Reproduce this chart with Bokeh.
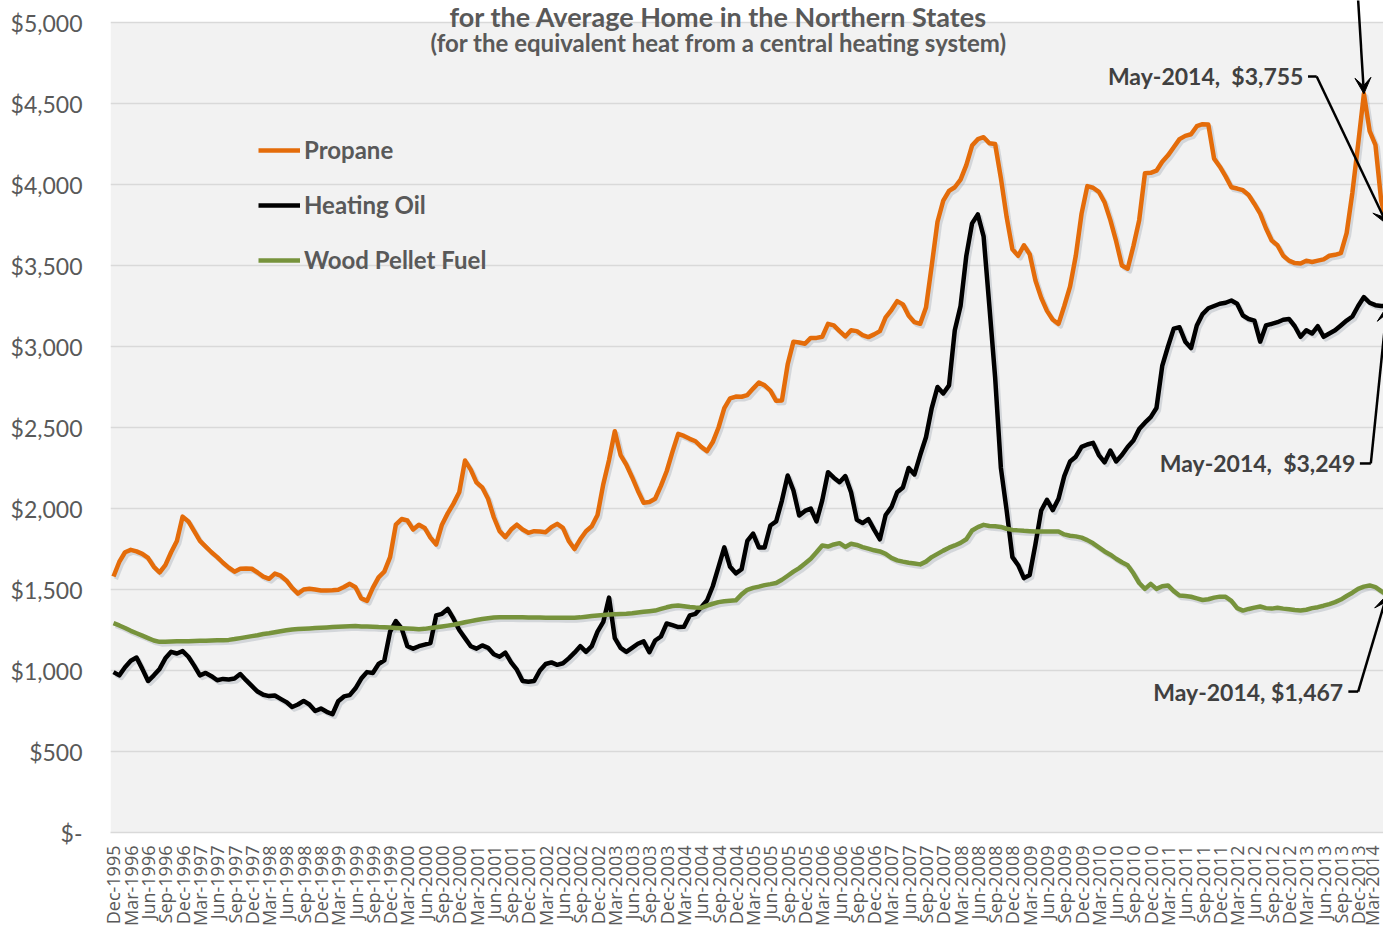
import math
import pandas as pd
from bokeh.plotting import figure
from bokeh.models import (ColumnDataSource, Range1d, FixedTicker, Legend, LegendItem,
                          Label, Arrow, VeeHead, BoxAnnotation)
from bokeh.transform import dodge
from bokeh.embed import file_html
from bokeh.resources import INLINE

# ---------------- data (monthly, Dec-1995 .. May-2014) ----------------
months = [d.strftime("%b-%Y") for d in pd.date_range("1995-12-01", "2014-05-01", freq="MS")]

propane = [
    1580, 1670, 1730, 1745, 1735, 1720, 1695, 1640, 1605, 1650,
    1730, 1800, 1950, 1920, 1860, 1800, 1765, 1730, 1700, 1665,
    1635, 1610, 1628, 1630, 1628, 1605, 1580, 1566, 1598, 1585,
    1556, 1510, 1475, 1500, 1505, 1500, 1494, 1494, 1495, 1498,
    1515, 1535, 1514, 1445, 1430, 1510, 1575, 1610, 1700, 1900,
    1935, 1926, 1870, 1900, 1880, 1820, 1778, 1900, 1970, 2030,
    2100, 2296, 2240, 2160, 2130, 2060, 1946, 1860, 1823, 1870,
    1900, 1870, 1850, 1860, 1858, 1854, 1885, 1905, 1880, 1800,
    1750, 1810, 1860, 1890, 1960, 2150, 2300, 2477, 2330, 2270,
    2193, 2110, 2035, 2040, 2060, 2140, 2230, 2350, 2461, 2448,
    2430, 2415, 2380, 2354, 2410, 2500, 2620, 2680, 2691, 2690,
    2700, 2740, 2778, 2760, 2728, 2665, 2667, 2890, 3030, 3025,
    3017, 3053, 3053, 3060, 3140, 3130, 3095, 3062, 3100, 3095,
    3070, 3058, 3075, 3095, 3180, 3225, 3280, 3260, 3190, 3150,
    3140, 3240, 3500, 3770, 3900, 3960, 3983, 4030, 4120, 4240,
    4280, 4292, 4255, 4250, 4040, 3798, 3600, 3560, 3625, 3570,
    3407, 3300, 3220, 3165, 3140, 3250, 3370, 3560, 3820, 3990,
    3980, 3955, 3890, 3780, 3650, 3500, 3480, 3620, 3780, 4070,
    4072, 4085, 4140, 4180, 4230, 4280, 4300, 4310, 4360, 4372,
    4370, 4160, 4110, 4050, 3983, 3975, 3965, 3935, 3880, 3820,
    3730, 3654, 3625, 3560, 3530, 3515, 3512, 3530, 3522, 3530,
    3538, 3560, 3566, 3576, 3700, 3950, 4250, 4560, 4330, 4245,
    3900, 3755,
]

heating_oil = [
    990, 970, 1020, 1060, 1080, 1010, 935, 970, 1010, 1075,
    1115, 1105, 1120, 1085, 1030, 970, 985, 965, 940, 948,
    945, 950, 978, 940, 905, 870, 850, 842, 846, 825,
    805, 775, 790, 812, 790, 750, 765, 745, 730, 810,
    840, 848, 890, 950, 990, 985, 1040, 1062, 1240, 1305,
    1260, 1150, 1135, 1150, 1160, 1170, 1340, 1350, 1380, 1320,
    1250, 1200, 1150, 1135, 1155, 1140, 1100, 1085, 1110, 1050,
    1005, 935, 930, 935, 1000, 1040, 1050, 1035, 1045, 1075,
    1110, 1150, 1115, 1150, 1240, 1300, 1450, 1200, 1140, 1115,
    1140, 1165, 1180, 1113, 1185, 1210, 1290, 1280, 1268, 1270,
    1340, 1350, 1390, 1432, 1520, 1640, 1760, 1640, 1600, 1625,
    1800, 1845, 1760, 1760, 1895, 1920, 2049, 2204, 2111, 1957,
    1985, 2000, 1920, 2050, 2224, 2190, 2162, 2200, 2100, 1930,
    1910, 1935, 1870, 1810, 1960, 2008, 2100, 2130, 2250, 2210,
    2330, 2440, 2620, 2750, 2710, 2760, 3100, 3250, 3560, 3760,
    3815, 3680, 3250, 2810, 2250, 1988, 1700, 1650, 1570, 1590,
    1780, 1988, 2054, 1990, 2060, 2200, 2290, 2320, 2380, 2395,
    2405, 2330, 2285, 2358, 2290, 2330, 2380, 2420, 2490, 2530,
    2564, 2620, 2880, 3000, 3110, 3119, 3030, 2990, 3130, 3200,
    3236, 3250, 3264, 3270, 3284, 3264, 3191, 3170, 3160, 3030,
    3130, 3140, 3150, 3165, 3170, 3125, 3060, 3100, 3080, 3125,
    3060, 3080, 3100, 3130, 3160, 3185, 3250, 3305, 3270, 3255,
    3250, 3249,
]

wood_pellet = [
    1292, 1278, 1262, 1245, 1230, 1215, 1200, 1185, 1177, 1178,
    1179, 1180, 1181, 1181, 1182, 1183, 1184, 1185, 1186, 1187,
    1189, 1194, 1200, 1206, 1212, 1218, 1225, 1230, 1236, 1242,
    1248, 1253, 1256, 1258, 1260, 1262, 1264, 1266, 1268, 1270,
    1272, 1273, 1274, 1272, 1271, 1270, 1268, 1267, 1265, 1263,
    1261, 1259, 1257, 1255, 1257, 1262, 1267, 1272, 1277, 1282,
    1290, 1298, 1305, 1312, 1318, 1323, 1327, 1329, 1329, 1329,
    1328, 1328, 1327, 1327, 1327, 1326, 1326, 1326, 1325, 1325,
    1325, 1328, 1332, 1336, 1339, 1342, 1345, 1347, 1349, 1351,
    1354, 1358, 1362, 1366, 1370, 1380, 1390, 1398, 1401, 1397,
    1392, 1389, 1387, 1400, 1412, 1422, 1427, 1431, 1433, 1470,
    1498, 1510, 1518, 1527, 1533, 1540, 1560, 1585, 1610, 1632,
    1660, 1690, 1730, 1772, 1765, 1778, 1786, 1763, 1782, 1775,
    1762, 1752, 1742, 1735, 1720, 1695, 1680, 1672, 1665, 1660,
    1655, 1672, 1700, 1720, 1740, 1758, 1772, 1788, 1810, 1864,
    1885, 1899, 1892, 1890, 1886, 1875, 1868, 1865, 1862, 1860,
    1858, 1858, 1858, 1858, 1858, 1840, 1832, 1828, 1820, 1805,
    1785, 1760, 1735, 1715, 1690, 1668, 1650, 1600, 1540, 1504,
    1535, 1504, 1520, 1525, 1490, 1463, 1460, 1455, 1445, 1435,
    1440, 1450, 1456, 1455, 1430, 1385, 1370, 1380, 1388, 1395,
    1385, 1382, 1387, 1382, 1378, 1373, 1370, 1375, 1385, 1391,
    1400, 1410, 1422, 1438, 1460, 1480, 1504, 1518, 1525, 1515,
    1490, 1467,
]

series_names = ["Propane", "Heating Oil", "Wood Pellet Fuel"]
series_colors = ["#E46C0A", "#000000", "#77933C"]

y_ticks = [0, 500, 1000, 1500, 2000, 2500, 3000, 3500, 4000, 4500, 5000]
y_tick_labels = ["$-", "$500", "$1,000", "$1,500", "$2,000", "$2,500",
                 "$3,000", "$3,500", "$4,000", "$4,500", "$5,000"]

title_text = "for the Average Home in the Northern States"
subtitle_text = "(for the equivalent heat from a central heating system)"
peak_index = 217  # Jan-2014 propane peak

n = len(months)
src = ColumnDataSource(dict(
    i=list(range(n)), month=months,
    propane=propane[:n], oil=heating_oil[:n], wood=wood_pellet[:n]))

# ---------------- figure ----------------
# plotting area 0..5000 is 810px tall; the frame extends 22px above it for the titles
y_top = 5000 + 22 * 5000 / 810
p = figure(frame_width=1273, frame_height=832, output_backend="svg", toolbar_location=None,
           x_range=Range1d(-0.52, 220.4), y_range=Range1d(0, y_top),
           min_border_left=110, min_border_right=0, min_border_top=0, min_border_bottom=0,
           background_fill_color="white", border_fill_color="white")
p.outline_line_color = None

p.add_layout(BoxAnnotation(bottom=0, top=5000, fill_color="#F2F2F2", fill_alpha=1,
                           line_color=None, level="image"))

p.xgrid.grid_line_color = None
p.ygrid.grid_line_color = "#D9D9D9"
p.ygrid.grid_line_width = 1.3
p.ygrid.ticker = FixedTicker(ticks=y_ticks)

p.yaxis.ticker = FixedTicker(ticks=y_ticks)
p.yaxis.major_label_overrides = {t: l for t, l in zip(y_ticks, y_tick_labels)}
p.yaxis.axis_line_color = None
p.yaxis.major_tick_line_color = None
p.yaxis.minor_tick_line_color = None
p.yaxis.major_tick_out = 0
p.yaxis.major_tick_in = 0
p.yaxis.major_label_standoff = 28
p.yaxis.major_label_text_font = "Lato"
p.yaxis.major_label_text_font_size = "23px"
p.yaxis.major_label_text_color = "#595959"

x_ticks = list(range(0, n, 3))
p.xaxis.ticker = FixedTicker(ticks=x_ticks)
p.xaxis.major_label_overrides = {t: months[t] for t in x_ticks}
p.xaxis.major_label_orientation = math.pi / 2
p.xaxis.axis_line_color = "#D9D9D9"
p.xaxis.axis_line_width = 1.5
p.xaxis.major_tick_line_color = None
p.xaxis.minor_tick_line_color = None
p.xaxis.major_tick_out = 0
p.xaxis.major_tick_in = 0
p.xaxis.major_label_standoff = 13
p.xaxis.major_label_text_font = "Open Sans"
p.xaxis.major_label_text_font_size = "18px"
p.xaxis.major_label_text_color = "#595959"

# shadows
for col in ["propane", "oil", "wood"]:
    p.line(x=dodge("i", 0.4), y=dodge(col, -16), source=src, line_width=4.5,
           line_color="#9AA3B0", line_alpha=0.35, line_join="round")

renderers = []
for col, color in zip(["propane", "oil", "wood"], series_colors):
    r = p.line(x="i", y=col, source=src, line_width=4.5, line_color=color, line_join="round")
    renderers.append(r)

legend = Legend(items=[LegendItem(label=nm, renderers=[r]) for nm, r in zip(series_names, renderers)],
                location=(148, 558), orientation="vertical", padding=0, margin=0, spacing=26,
                glyph_width=42, glyph_height=20, label_height=20, label_standoff=4,
                background_fill_alpha=0, border_line_alpha=0,
                label_text_font="Lato", label_text_font_style="bold",
                label_text_font_size="24px", label_text_color="#595959")
p.add_layout(legend)

# titles
p.add_layout(Label(x=105, y=5037, text=title_text, text_align="center", text_baseline="middle",
                   text_font="Lato", text_font_style="bold", text_font_size="27px", text_color="#595959"))
p.add_layout(Label(x=105, y=4877, text=subtitle_text, text_align="center", text_baseline="middle",
                   text_font="Lato", text_font_style="bold", text_font_size="24px", text_color="#595959"))

# annotations
last = n - 1
ann_color = "#404040"
sp = "\u00a0 "
notes = [
    (206.5, 4667, f"{months[last]},{sp}${propane[last]:,}", (207.3, 208.8), propane[last]),
    (215.5, 2278, f"{months[last]},{sp}${heating_oil[last]:,}", (216.3, 218.2), heating_oil[last]),
    (213.4, 870, f"{months[last]}, ${wood_pellet[last]:,}", (214.3, 216.0), wood_pellet[last]),
]
for tx, ty, txt, (c0, c1), target in notes:
    p.add_layout(Label(x=tx, y=ty, text=txt, text_align="right", text_baseline="middle",
                       text_font="Lato", text_font_style="bold", text_font_size="23px",
                       text_color=ann_color))
    p.add_layout(Arrow(x_start=c0, y_start=ty, x_end=c1, y_end=ty, end=None,
                       line_width=2.5, line_color="black"))
    p.add_layout(Arrow(x_start=c1, y_start=ty, x_end=last, y_end=target,
                       end=VeeHead(size=16, fill_color="black", line_color="black"),
                       line_width=2.5, line_color="black"))

# arrow to the propane peak (its label lies above the visible page)
p.add_layout(Arrow(x_start=216.0, y_start=5140, x_end=peak_index, y_end=propane[peak_index],
                   end=VeeHead(size=16, fill_color="black", line_color="black"),
                   line_width=2.5, line_color="black"))

open("out.html", "w").write(file_html(p, INLINE))
